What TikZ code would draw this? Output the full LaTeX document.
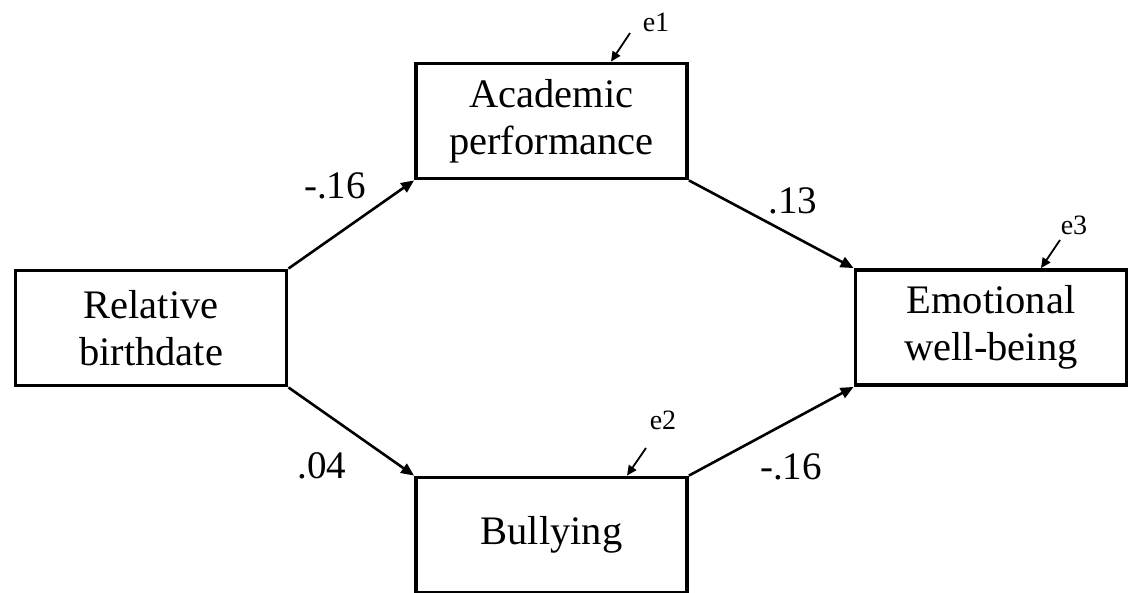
\documentclass[tikz,border=0pt]{standalone}
\usepackage{fontspec}
\setmainfont{Liberation Serif}
\usetikzlibrary{arrows.meta}
\begin{document}
\begin{tikzpicture}[x=1pt,y=-1pt,
  box/.style={draw,line width=3.8pt,minimum width=271pt,minimum height=115pt,inner sep=0pt,align=center,font=\fontsize{40.5}{47}\selectfont},
  path/.style={line width=2.6pt,-{Triangle[length=13pt,width=11pt]}},
  err/.style={line width=1.8pt,-{Triangle[length=10pt,width=9pt]}},
  coef/.style={font=\fontsize{39}{44}\selectfont,inner sep=0pt},
  elab/.style={font=\fontsize{28}{32}\selectfont,inner sep=0pt}]
\useasboundingbox (0,0) rectangle (1133,592);
\node[box] (rel) at (151,328) {Relative\\birthdate};
\node[box] (acad) at (551.5,121) {Academic\\performance};
\node[box] (emo) at (991,327.5) {Emotional\\well-being};
\node[box] (bul) at (551.5,535) {Bullying};
\draw[path] (rel.north east) -- (acad.south west);
\draw[path] (acad.south east) -- (emo.north west);
\draw[path] (rel.south east) -- (bul.north west);
\draw[path] (bul.north east) -- (emo.south west);
\node[coef] (c1) at (335,186) {-.16};
\node[coef] (c2) at (793,201) {.13};
\node[coef] (c3) at (322,466) {.04};
\node[coef] (c4) at (791,467) {-.16};
\node[elab] (e1) at (656,22) {e1};
\node[elab] (e2) at (663,420) {e2};
\node[elab] (e3) at (1074,225) {e3};
\coordinate (e1s) at (630,33);
\coordinate (e2s) at (646,448);
\coordinate (e3s) at (1060,240);
\draw[err] (e1s) -- ([xshift=59.5pt]acad.north);
\draw[err] (e2s) -- ([xshift=75.5pt]bul.north);
\draw[err] (e3s) -- ([xshift=50pt]emo.north);
\end{tikzpicture}
\end{document}
